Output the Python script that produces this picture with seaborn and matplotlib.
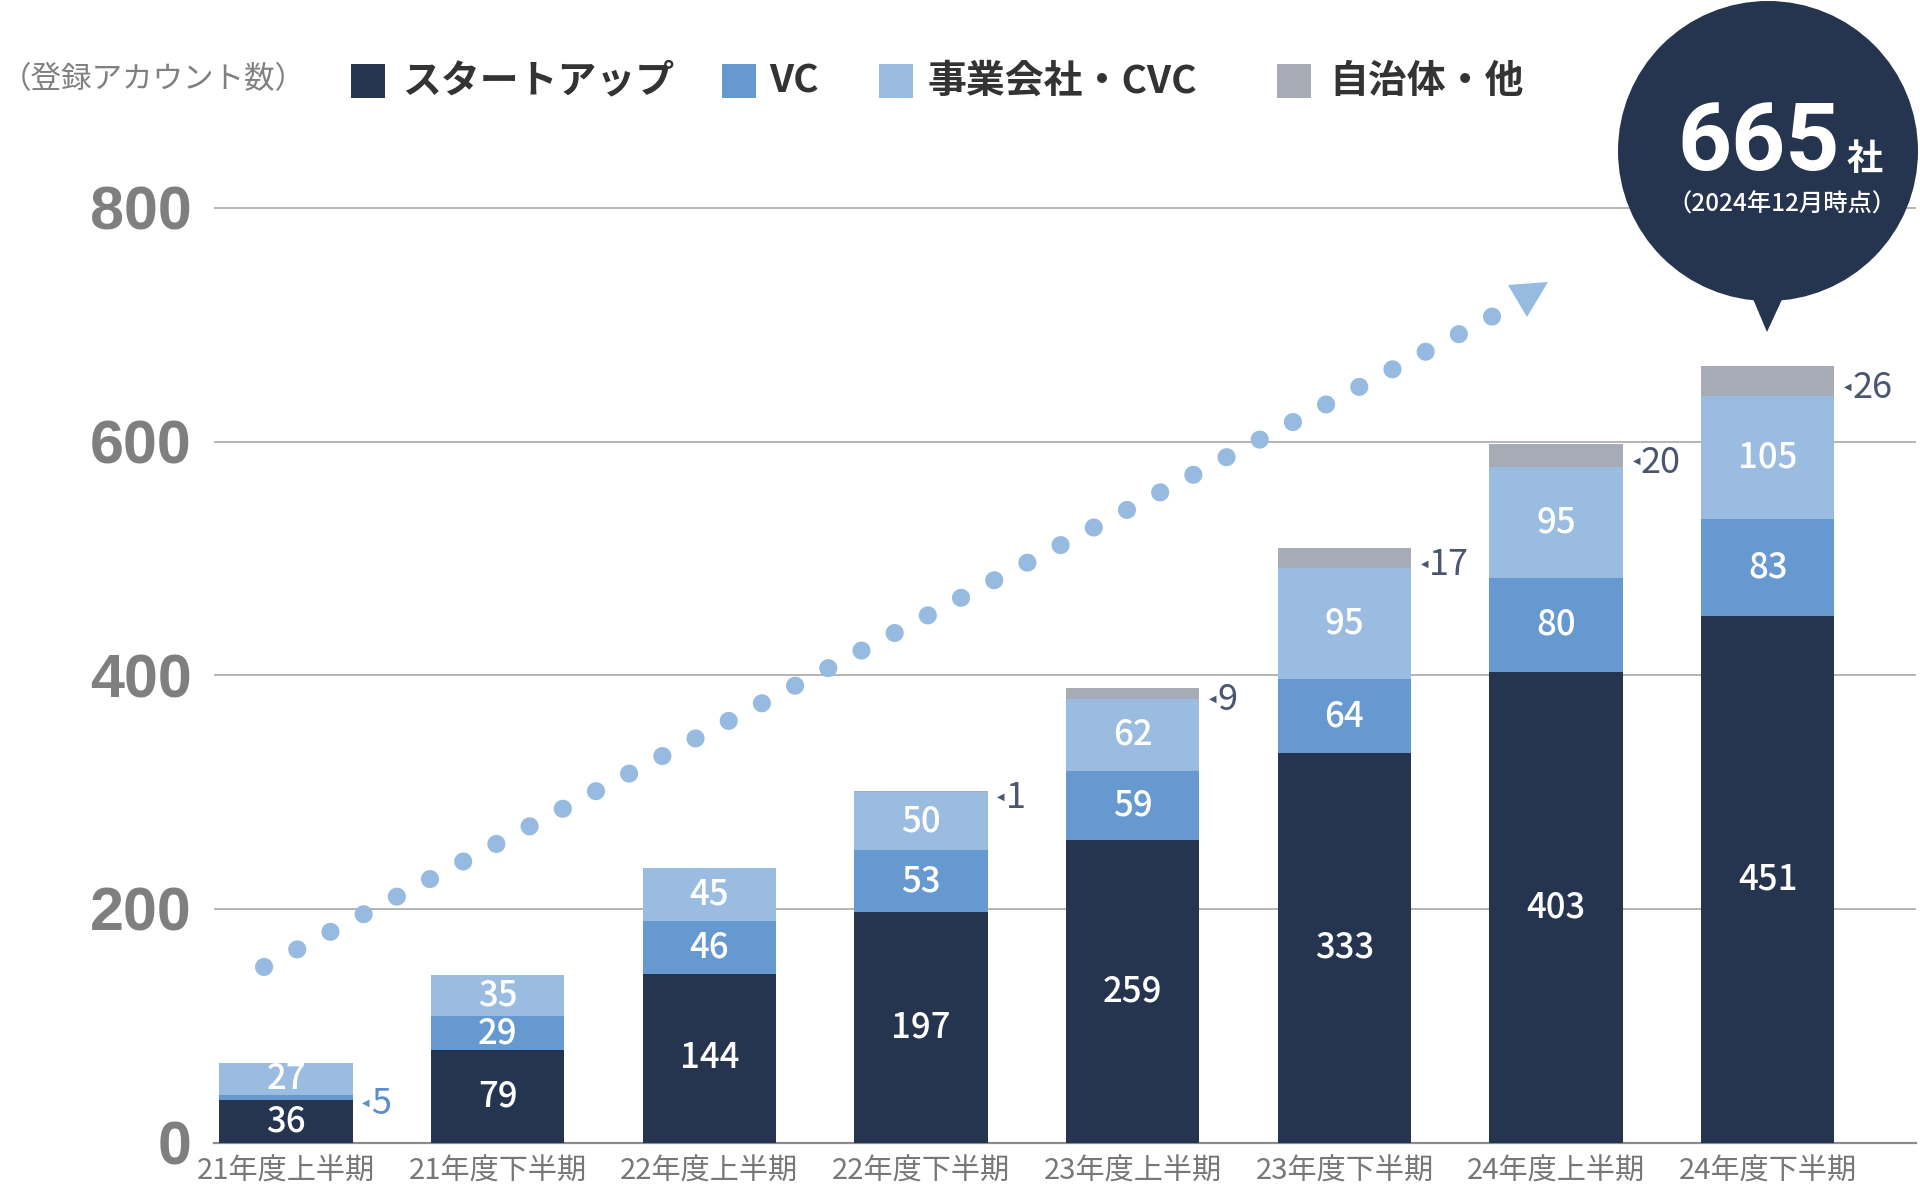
import numpy as np
import pandas as pd
import seaborn as sns
from matplotlib import pyplot as plt
from matplotlib.patches import Circle, Polygon, Rectangle

periods = ["21年度上半期", "21年度下半期", "22年度上半期", "22年度下半期",
           "23年度上半期", "23年度下半期", "24年度上半期", "24年度下半期"]
startup = [36, 79, 144, 197, 259, 333, 403, 451]
vc = [5, 29, 46, 53, 59, 64, 80, 83]
corp_cvc = [27, 35, 45, 50, 62, 95, 95, 105]
other = [0, 0, 0, 1, 9, 17, 20, 26]

legend_labels = ["スタートアップ", "VC", "事業会社・CVC", "自治体・他"]
colors = ["#26354F", "#6699D0", "#99BCE0", "#A7ABB6"]
y_ticks = [0, 200, 400, 600, 800]
total_label = "665"
total_unit = "社"
total_note = "（2024年12月時点）"
unit_note = "（登録アカウント数）"

sns.set_theme(style="white")
plt.rcParams['font.family'] = ['Noto Sans CJK JP', 'DejaVu Sans']

df = pd.DataFrame({"period": periods, "startup": startup, "vc": vc,
                   "corp": corp_cvc, "other": other})
layers = ["startup", "vc", "corp", "other"]

fig = plt.figure(figsize=(19.2, 11.85), dpi=100)
ax = fig.add_axes([214 / 1920, 42.5 / 1185, 1702 / 1920, 1142.5 / 1185])

bar_w = 0.63
bottom = np.zeros(len(df))
for layer, col in zip(layers, colors):
    sns.barplot(data=df, x="period", y=layer, bottom=bottom, color=col,
                width=bar_w, linewidth=0, saturation=1, ax=ax, zorder=3)
    vals = df[layer].to_numpy()
    for i, v in enumerate(vals):
        if v <= 0:
            continue
        mid = bottom[i] + v / 2
        if layer == "other" or v < 10:
            # small segments get a label beside the bar
            tc = "#5B8FCC" if layer == "vc" else "#4A5570"
            ax.annotate("◀", (i + bar_w / 2, mid), xytext=(7, -4),
                        textcoords="offset points", ha="left", va="center",
                        fontsize=7, color=tc, family="DejaVu Sans")
            ax.annotate(str(v), (i + bar_w / 2, mid), xytext=(13, -5),
                        textcoords="offset points", ha="left", va="center",
                        fontsize=26, color=tc)
        else:
            ax.text(i, mid, str(v), ha="center", va="center", fontsize=25,
                    color="white", fontweight="medium", zorder=5)
    bottom = bottom + vals

ax.set_xlim(-0.34, 7.70)
ax.set_ylim(0, 978)
ax.set_yticks(y_ticks)
ax.set_yticklabels([str(t) for t in y_ticks], family="Liberation Sans",
                   fontweight="bold", fontsize=44, color="#7F7F7F")
ax.set_xticks(range(len(periods)))
ax.set_xticklabels(periods, fontsize=21, color="#777777")
ax.tick_params(axis="y", length=0, pad=16)
ax.tick_params(axis="x", length=0, pad=10)
ax.set_xlabel("")
ax.set_ylabel("")
ax.yaxis.grid(True, color="#A8A8A8", linewidth=1.2, zorder=0)
ax.xaxis.grid(False)
for s in ["left", "top", "right"]:
    ax.spines[s].set_visible(False)
ax.spines["bottom"].set_color("#8C8C8C")
ax.spines["bottom"].set_linewidth(1.6)
ax.patch.set_alpha(0)

# overlay in pixel coordinates for decorations
ov = fig.add_axes([0, 0, 1, 1], zorder=10)
ov.set_xlim(0, 1920)
ov.set_ylim(1185, 0)
ov.axis("off")
ov.patch.set_alpha(0)

# dotted trend arrow
ov.plot([264, 1495], [967, 315], color="#96BAE0", linewidth=13,
        linestyle=(0, (0.01, 2.07)), dash_capstyle="round")
ov.add_patch(Polygon([(1508, 285), (1548, 282), (1527, 317)], closed=True,
                     color="#96BAE0", linewidth=0))

# bubble
ov.add_patch(Circle((1768, 151), 150, color="#26354F", linewidth=0))
ov.add_patch(Polygon([(1745, 280), (1791, 280), (1767, 332)], closed=True,
                     color="#26354F", linewidth=0))
ov.text(1840, 170, total_label, ha="right", va="baseline", fontsize=68,
        color="white", fontweight="bold", family="Roboto")
ov.text(1847, 170, total_unit, ha="left", va="baseline", fontsize=26,
        color="white", fontweight="bold")
ov.text(1782, 205, total_note, ha="center", va="center", fontsize=17.5,
        color="white", fontweight="medium")

# legend
ov.text(1, 80, unit_note, ha="left", va="center", fontsize=22, color="#808080")
sq = [(351, 402), (722, 769), (879, 928), (1277, 1329)]
for (sx, tx), lab, col in zip(sq, legend_labels, colors):
    ov.add_patch(Rectangle((sx, 64), 34, 34, color=col, linewidth=0))
    ov.text(tx, 81, lab, ha="left", va="center", fontsize=28,
            color="#333333", fontweight="bold")

fig.savefig("out.png", dpi=100)
